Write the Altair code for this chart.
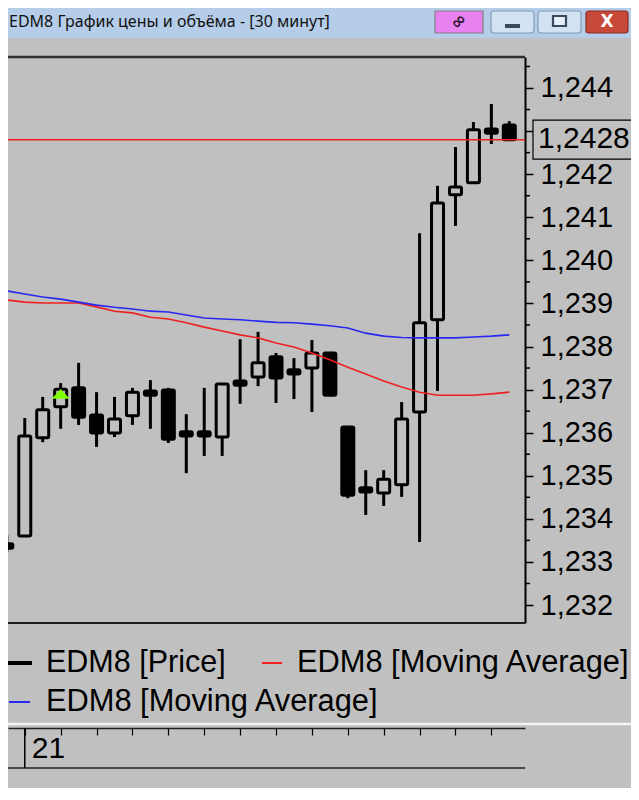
import altair as alt
import pandas as pd

# ---------------- data ----------------
TITLE = "EDM8 График цены и объёма - [30 минут]"
idx = list(range(29))
opens = [1.23342, 1.23360, 1.23588, 1.23660, 1.23704, 1.23641, 1.23599, 1.23639,
         1.23697, 1.23699, 1.23602, 1.23602, 1.23590, 1.23720, 1.23729, 1.23776,
         1.23746, 1.23750, 1.23785, 1.23613, 1.23472, 1.23460, 1.23479, 1.23648,
         1.23862, 1.24152, 1.24180, 1.24305, 1.24314]
highs = [1.23362, 1.23634, 1.23683, 1.23715, 1.23762, 1.23694, 1.23683, 1.23704,
         1.23722, 1.23704, 1.23643, 1.23704, 1.23713, 1.23817, 1.23834, 1.23785,
         1.23773, 1.23815, 1.23785, 1.23613, 1.23513, 1.23513, 1.23671, 1.24063,
         1.24173, 1.24263, 1.24321, 1.24363, 1.24323]
lows = [1.23323, 1.23360, 1.23578, 1.23609, 1.23618, 1.23567, 1.23590, 1.23618,
        1.23609, 1.23576, 1.23506, 1.23546, 1.23546, 1.23667, 1.23708, 1.23669,
        1.23678, 1.23648, 1.23687, 1.23448, 1.23409, 1.23430, 1.23451, 1.23346,
        1.23697, 1.24080, 1.24180, 1.24270, 1.24280]
closes = [1.23332, 1.23592, 1.23653, 1.23701, 1.23636, 1.23599, 1.23632, 1.23694,
          1.23687, 1.23585, 1.23592, 1.23592, 1.23713, 1.23710, 1.23762, 1.23727,
          1.23736, 1.23785, 1.23687, 1.23455, 1.23462, 1.23492, 1.23632, 1.23855,
          1.24133, 1.24170, 1.24303, 1.24295, 1.24280]
ma_red = [1.23908, 1.23903, 1.23901, 1.23901, 1.23901, 1.23892, 1.23882, 1.23878,
          1.23868, 1.23864, 1.23855, 1.23845, 1.23836, 1.23827, 1.23820, 1.23808,
          1.23799, 1.23785, 1.23769, 1.23752, 1.23736, 1.23720, 1.23706, 1.23694,
          1.23687, 1.23687, 1.23687, 1.23690, 1.23694]
ma_blue = [1.23929, 1.23922, 1.23915, 1.23910, 1.23903, 1.23896, 1.23891, 1.23887,
           1.23882, 1.23880, 1.23873, 1.23866, 1.23864, 1.23862, 1.23859, 1.23856,
           1.23855, 1.23852, 1.23848, 1.23843, 1.23831, 1.23824, 1.23821, 1.23820,
           1.23820, 1.23820, 1.23822, 1.23824, 1.23827]
major_ticks = [1.232, 1.233, 1.234, 1.235, 1.236, 1.237, 1.238, 1.239,
               1.240, 1.241, 1.242, 1.243, 1.244]
hidden_label = 1.243  # covered by the current-price box
minor_ticks = [1.2325, 1.2335, 1.2345, 1.2355, 1.2365, 1.2375, 1.2385,
               1.2395, 1.2405, 1.2415, 1.2425, 1.2435, 1.2445]
x_ticks = [1, 3, 5, 7, 9, 11, 13, 15, 17, 19, 21, 23, 25, 27]
day_index = 1
day_label = "21"
current_price = 1.2428
price_label = "1,2428"
signal_index = [3]
signal_price = [1.2369]
legend_labels = ["EDM8 [Price]", "EDM8 [Moving Average]", "EDM8 [Moving Average]"]

FONT = "Liberation Sans"
BG = "#c0c0c0"
RED = "#f02020"
BLUE = "#2828f0"

W, H = 517, 566

df = pd.DataFrame({"i": idx, "open": opens, "high": highs, "low": lows,
                   "close": closes, "ma_red": ma_red, "ma_blue": ma_blue})
df["dir"] = ["up" if c > o else "down" for o, c in zip(opens, closes)]

xs = alt.Scale(domain=[0.34426, 28.5956], nice=False, zero=False)
ys = alt.Scale(domain=[1.2315823, 1.2447195], nice=False, zero=False)

xaxis = alt.Axis(orient="bottom", offset=105, values=x_ticks, tickSize=7, tickWidth=1.2,
                 tickColor="black", domainColor="#202020", domainWidth=1.5,
                 labels=False, grid=False, title=None)
yaxis = alt.Axis(orient="right", values=major_ticks,
                 labelExpr=(f"abs(datum.value - {hidden_label}) < 0.00001 ? '' : "
                            "replace(format(datum.value, '.3f'), '.', ',')"),
                 tickSize=8, tickWidth=1.5, tickColor="black",
                 domainColor="black", domainWidth=2,
                 labelFont=FONT, labelFontSize=29, labelColor="black", labelPadding=7,
                 labelOverlap=False, labelFlush=False, grid=False, title=None)


def X(field="i"):
    return alt.X(f"{field}:Q", scale=xs, axis=xaxis, title=None)


def Y(field):
    return alt.Y(f"{field}:Q", scale=ys, axis=yaxis, title=None)


base = alt.Chart(df)

wicks = base.mark_rule(color="black", strokeWidth=3, clip=True).encode(
    x=X(), y=Y("low"), y2="high:Q")

bodies = base.mark_bar(size=12, stroke="black", strokeWidth=3, cornerRadius=1.5,
                       clip=True).encode(
    x=X(), y=Y("open"), y2="close:Q",
    fill=alt.Fill("dir:N", scale=alt.Scale(domain=["up", "down"], range=[BG, "black"]),
                  legend=None))

red_line = base.mark_line(color=RED, strokeWidth=1.6, clip=True).encode(
    x=X(), y=Y("ma_red"))
blue_line = base.mark_line(color=BLUE, strokeWidth=1.6, clip=True).encode(
    x=X(), y=Y("ma_blue"))

sig = alt.Chart(pd.DataFrame({"i": signal_index, "p": signal_price})).mark_point(
    shape="M -1 0.55 L 1 0.55 L 0 -0.55 Z", size=324, filled=True, fill="#80ff00",
    opacity=1, strokeWidth=0, clip=True).encode(x=X(), y=Y("p"))

price_df = pd.DataFrame({"price": [current_price], "label": [price_label]})
price_rule = alt.Chart(price_df).mark_rule(color=RED, strokeWidth=1.4).encode(
    y=Y("price"))
price_box = alt.Chart(price_df).mark_point(
    shape="M -1 -0.394 L 1 -0.394 L 1 0.394 L -1 0.394 Z", size=9801, filled=True,
    fill=BG, stroke="black", strokeWidth=1.2, opacity=1).encode(
    y=Y("price"), x=alt.value(574.5))
price_text = alt.Chart(price_df).mark_text(
    align="left", baseline="middle", font=FONT, fontSize=30, color="black", dy=-1).encode(
    y=Y("price"), x=alt.value(530), text="label:N")

minor = alt.Chart(pd.DataFrame({"v": minor_ticks})).mark_rule(
    color="black", strokeWidth=1.5).encode(
    y=Y("v"), x=alt.value(W), x2=alt.value(W + 5))

day_df = pd.DataFrame({"i": [day_index], "label": [day_label]})
day_tick = alt.Chart(day_df).mark_rule(color="black", strokeWidth=1.5).encode(
    x=X(), y=alt.value(671), y2=alt.value(711))
day_text = alt.Chart(day_df).mark_text(
    align="left", baseline="middle", font=FONT, fontSize=30, color="black", dx=7).encode(
    x=X(), y=alt.value(692), text="label:N")

deco = alt.Chart(pd.DataFrame({"d": [0]}))


def hrule(x1, x2, y, color, sw):
    return deco.mark_rule(color=color, strokeWidth=sw).encode(
        x=alt.value(x1), x2=alt.value(x2), y=alt.value(y))


def rect(x1, x2, y1, y2, fill, stroke=None, sw=1, cr=0):
    kw = dict(fill=fill, cornerRadius=cr)
    if stroke:
        kw.update(stroke=stroke, strokeWidth=sw)
    return deco.mark_rect(**kw).encode(
        x=alt.value(x1), x2=alt.value(x2), y=alt.value(y1), y2=alt.value(y2))


def label(x, y, txt, size, color="black", font=FONT, **kw):
    return deco.mark_text(align="left", baseline="middle", font=font, fontSize=size,
                          color=color, **kw).encode(
        x=alt.value(x), y=alt.value(y), text=alt.value(txt))


borders = [hrule(0, W, 0, "#303030", 2.5), hrule(0, W, H, "#202020", 2)]

# window title bar
titlebar = [
    rect(-10, 640, -60, -19, "#b5cde8"),
    label(1, -35, TITLE, 16, color="#111111", font="Noto Sans"),
    rect(427, 475, -46, -24, "#e882f0", stroke="#808080", sw=1.2),
    deco.mark_text(font="DejaVu Sans", fontSize=18, fontWeight="bold", color="#301830",
                   angle=315, align="center", baseline="middle").encode(
        x=alt.value(451), y=alt.value(-35), text=alt.value("∞")),
    rect(483, 526, -46, -24, "#d3e2f2", stroke="#7f9db9", sw=1.2, cr=3),
    rect(497, 512, -33, -29, "#3a4a5c"),
    rect(530, 573, -46, -24, "#d3e2f2", stroke="#7f9db9", sw=1.2, cr=3),
    rect(545, 558, -41, -31, "#e6eef8", stroke="#3a4a5c", sw=2.2),
    rect(578, 620, -46, -24, "#c7493a", stroke="#8b2a20", sw=1.2, cr=3),
    deco.mark_text(font="DejaVu Sans", fontSize=17, fontWeight="bold", color="white",
                   align="center", baseline="middle").encode(
        x=alt.value(599), y=alt.value(-35), text=alt.value("X")),
]

# legend
legend = [
    hrule(0, 24, 606, "black", 4),
    label(38, 606, legend_labels[0], 30.5),
    hrule(254, 274, 606, RED, 2),
    label(289, 606, legend_labels[1], 30.8),
    hrule(1, 22, 645, BLUE, 2),
    label(38, 645, legend_labels[2], 30.8),
]

# time strip
strip = [hrule(-10, 640, 667, "#f4f4f4", 2.5), hrule(0, W, 711, "#202020", 1.5),
         day_tick, day_text]

chart = alt.layer(
    wicks, bodies, sig, red_line, blue_line, price_rule, minor, price_box, price_text,
    *borders, *titlebar, *legend, *strip
).properties(
    width=W, height=H,
    padding={"left": 0, "top": 49, "right": 106, "bottom": 165},
    autosize=alt.AutoSizeParams(type="none"),
    background=BG,
).configure_view(stroke=None)

chart.save("out.html", embed_options={"renderer": "svg", "actions": False})
